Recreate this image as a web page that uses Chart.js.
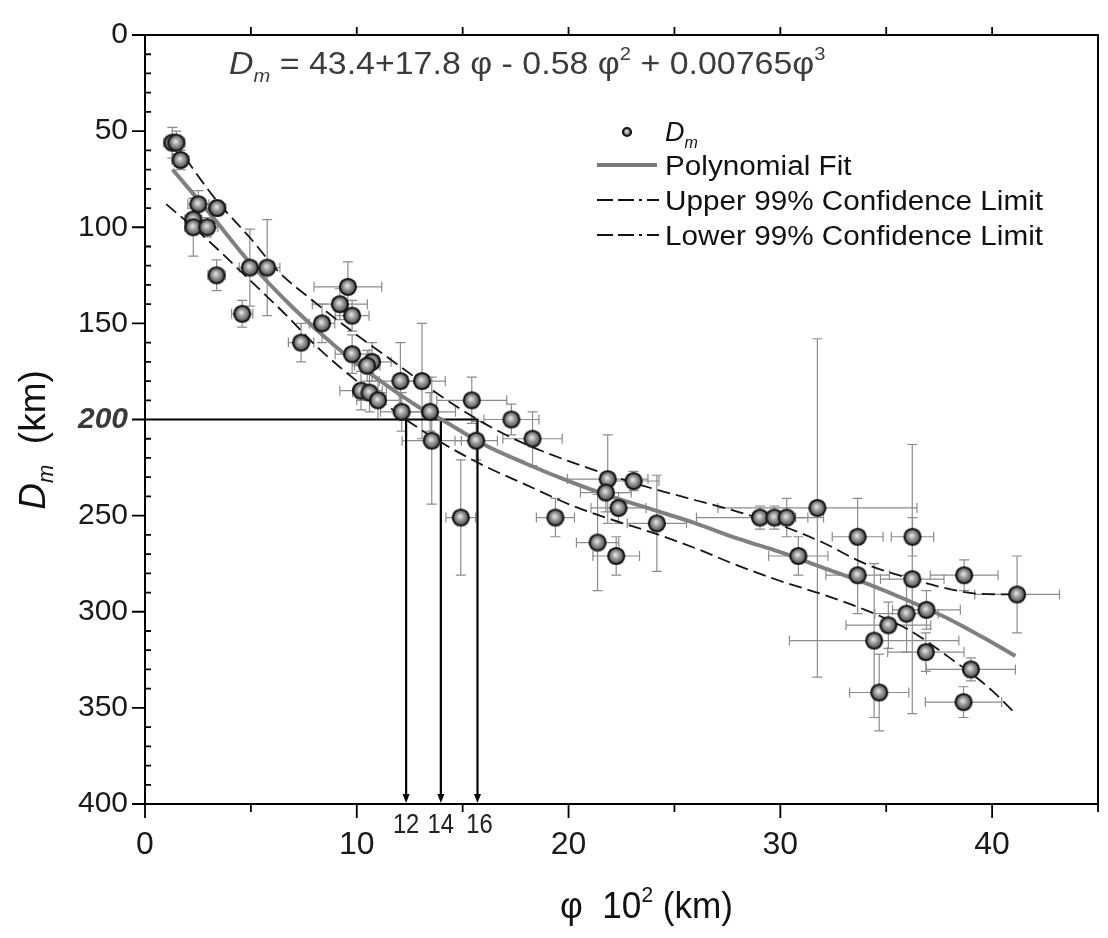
<!DOCTYPE html>
<html>
<head>
<meta charset="utf-8">
<script src="https://cdn.jsdelivr.net/npm/chart.js@4.4.1/dist/chart.umd.min.js"></script>
<style>
  html, body { margin: 0; padding: 0; background: #fff; }
  #wrap { width: 1108px; height: 938px; }
</style>
</head>
<body>
<div id="wrap"><canvas id="chart" width="1108" height="938"></canvas></div>
<script>
// Measured points (phi x 10^2 km, Dm km) with their error bars
const phi = [1.29, 1.48, 1.68, 2.52, 3.41, 2.28, 2.28, 2.94, 3.38, 4.95, 5.77, 4.59, 7.37, 8.36, 9.2, 9.58, 9.78, 9.78, 10.72, 10.49,
  10.2, 10.6, 11.0, 12.06, 13.08, 12.12, 13.46, 13.54, 15.43, 15.64, 17.3, 18.3, 14.91, 19.38, 21.85, 21.76, 23.07, 22.36, 24.17, 21.37,
  22.25, 29.04, 29.72, 30.3, 31.75, 30.85, 33.65, 36.24, 33.65, 36.23, 38.68, 41.18, 35.96, 36.9, 35.1, 34.43, 36.87, 39.0, 34.67, 38.65];
const dm = [56, 56, 65, 88, 90, 96, 100, 100, 125, 121, 121, 145, 160, 150, 140, 131, 146, 166, 170, 172,
  185, 186, 190, 180, 180, 196, 196, 211, 190, 211, 200, 210, 251, 251, 231, 238, 232, 246, 254, 264,
  271, 251, 251, 251, 246, 271, 261, 261, 281, 283, 281, 291, 301, 299, 307, 315, 321, 330, 342, 347];
const phiErr = [0.4, 0.4, 0.4, 0.5, 0.4, 0.4, 0.4, 0.5, 0.4, 0.5, 0.6, 0.5, 0.6, 0.6, 1.3, 1.6, 0.8, 0.8, 0.9, 0.6,
  1.0, 0.8, 1.0, 1.0, 1.1, 1.0, 1.2, 1.4, 1.65, 1.0, 1.3, 1.4, 0.7, 0.9, 1.9, 1.2, 1.2, 1.3, 1.4, 1.0,
  1.1, 3.0, 1.0, 1.0, 4.7, 1.4, 1.2, 1.0, 1.5, 1.5, 1.6, 2.0, 1.5, 1.6, 2.0, 4.0, 1.8, 2.1, 1.4, 1.8];
const dmErr = [8, 6, 5, 7, 4, 6, 15, 5, 8, 20, 25, 7, 10, 10, 8, 13, 8, 10, 10, 8,
  10, 10, 10, 20, 30, 10, 10, 33, 12, 10, 8, 14, 30, 10, 23, 10, 5, 8, 25, 25,
  10, 6, 6, 10, 88, 10, 20, 10, 20, 70, 8, 20, 20, 10, 12, 40, 10, 6, 20, 8];

// Fitted curve and 99% confidence limits
const fitPhi = [1.3, 3, 5, 7, 9, 11, 13, 14, 16, 18, 20, 22, 24, 26, 28, 30, 32, 34, 36, 38, 40, 41.1];
const fitDm = [70, 92, 119, 142, 162, 179, 194, 200, 213, 223, 232, 240, 247, 254, 262, 269, 277, 285, 294, 304, 316, 323];
const upperPhi = [1.9, 3.3, 5, 6.3, 7.9, 10, 12, 14, 15.7, 17.6, 20.6, 24, 26, 28, 30, 32, 34, 36.2, 37.9, 39.3, 41.1];
const upperDm = [64, 85, 106, 123, 138, 156, 172, 188, 200, 211, 224, 236, 242, 248, 255, 264, 275, 283, 288, 290.6, 291];
const lowerPhi = [1.0, 2.7, 5, 6.6, 8.2, 10, 12.33, 14, 16, 18, 20, 22, 24, 26, 28, 30, 32, 34, 36, 37, 38, 39, 40, 41.1];
const lowerDm = [88, 104, 128, 145, 163, 180, 200, 212, 224, 234, 244, 252, 259, 267, 276, 284, 291, 299, 309, 316, 324, 332, 341, 353];

// Where the curves cut Dm = 200 km
const markDm = 200;
const markPhi = [12.33, 13.97, 15.7];
const markLabels = ["12", "14", "16"];

const xTicks = [0, 10, 20, 30, 40];
const yTicks = [0, 50, 100, 150, 200, 250, 300, 350, 400];

const FONT = "'Liberation Sans', Arial, sans-serif";

// shaded ball marker
function makeBall(r) {
  const s = Math.ceil(r * 2 + 2);
  const c = document.createElement("canvas");
  c.width = s; c.height = s;
  const g = c.getContext("2d");
  const m = s / 2;
  const grad = g.createRadialGradient(m - r * 0.1, m - r * 0.15, r * 0.05, m, m, r);
  grad.addColorStop(0, "#e6e6e6");
  grad.addColorStop(0.4, "#9a9a9a");
  grad.addColorStop(1, "#3c3c3c");
  g.fillStyle = grad;
  g.beginPath();
  g.arc(m, m, r - 1, 0, Math.PI * 2);
  g.fill();
  g.lineWidth = 2.2;
  g.strokeStyle = "#161616";
  g.stroke();
  return c;
}
const ball = makeBall(9);
const smallBall = makeBall(5);

// draw a run of text pieces (italic, sub/superscript)
function richText(ctx, parts, x, y, align, sx) {
  sx = sx || 1;
  let w = 0;
  parts.forEach(p => {
    ctx.font = (p.italic ? "italic " : "") + (p.bold ? "bold " : "") + p.size + "px " + FONT;
    p.w = ctx.measureText(p.t).width;
    w += p.w;
  });
  let cx = align === "center" ? x - w * sx / 2 : x;
  ctx.save();
  ctx.translate(cx, y);
  ctx.scale(sx, 1);
  let px = 0;
  parts.forEach(p => {
    ctx.font = (p.italic ? "italic " : "") + (p.bold ? "bold " : "") + p.size + "px " + FONT;
    ctx.fillText(p.t, px, p.dy || 0);
    px += p.w;
  });
  ctx.restore();
}

const extras = {
  id: "extras",
  beforeDatasetsDraw(chart) {
    const { ctx, scales: { x, y } } = chart;
    ctx.save();
    // error bars
    ctx.strokeStyle = "#8c8c8c";
    ctx.lineWidth = 1.2;
    const cap = 5;
    for (let i = 0; i < phi.length; i++) {
      const px = x.getPixelForValue(phi[i]);
      const py = y.getPixelForValue(dm[i]);
      const x1 = x.getPixelForValue(phi[i] - phiErr[i]);
      const x2 = x.getPixelForValue(phi[i] + phiErr[i]);
      const y1 = y.getPixelForValue(dm[i] - dmErr[i]);
      const y2 = y.getPixelForValue(dm[i] + dmErr[i]);
      ctx.beginPath();
      ctx.moveTo(x1, py); ctx.lineTo(x2, py);
      ctx.moveTo(x1, py - cap); ctx.lineTo(x1, py + cap);
      ctx.moveTo(x2, py - cap); ctx.lineTo(x2, py + cap);
      ctx.moveTo(px, y1); ctx.lineTo(px, y2);
      ctx.moveTo(px - cap, y1); ctx.lineTo(px + cap, y1);
      ctx.moveTo(px - cap, y2); ctx.lineTo(px + cap, y2);
      ctx.stroke();
    }
    // 200 km line and arrows down to the axis
    ctx.strokeStyle = "#000";
    ctx.fillStyle = "#000";
    ctx.lineWidth = 2.2;
    const yh = y.getPixelForValue(markDm);
    const yb = y.getPixelForValue(400);
    ctx.beginPath();
    ctx.moveTo(x.getPixelForValue(0), yh);
    ctx.lineTo(x.getPixelForValue(markPhi[markPhi.length - 1]) + 1, yh);
    ctx.stroke();
    markPhi.forEach(v => {
      const px = x.getPixelForValue(v);
      ctx.beginPath();
      ctx.moveTo(px, yh);
      ctx.lineTo(px, yb - 8);
      ctx.stroke();
      ctx.beginPath();
      ctx.moveTo(px - 3.5, yb - 10);
      ctx.lineTo(px + 3.5, yb - 10);
      ctx.lineTo(px, yb - 1);
      ctx.closePath();
      ctx.fill();
    });
    ctx.restore();
  },
  afterDraw(chart) {
    const { ctx, chartArea: a, scales: { x, y } } = chart;
    ctx.save();
    ctx.strokeStyle = "#000";
    ctx.lineWidth = 2;
    ctx.strokeRect(a.left, a.top, a.right - a.left, a.bottom - a.top);
    ctx.lineWidth = 1.8;
    ctx.beginPath();
    // left axis: major ticks outward, minor inward
    for (let v = 0; v <= 400; v += 10) {
      const py = y.getPixelForValue(v);
      if (v % 50 === 0) { ctx.moveTo(a.left - 13, py); ctx.lineTo(a.left, py); }
      else { ctx.moveTo(a.left, py); ctx.lineTo(a.left + 6, py); }
    }
    // bottom axis
    for (let v = 0; v <= 45; v += 5) {
      const px = x.getPixelForValue(v);
      ctx.moveTo(px, a.bottom);
      ctx.lineTo(px, a.bottom + (v % 10 === 0 ? 14 : 8));
    }
    // top axis
    for (let v = 5; v < 45; v += 5) {
      const px = x.getPixelForValue(v);
      ctx.moveTo(px, a.top);
      ctx.lineTo(px, a.top - 8);
    }
    ctx.stroke();

    // small labels under the arrows
    ctx.fillStyle = "#222";
    ctx.textBaseline = "alphabetic";
    ctx.textAlign = "left";
    markPhi.forEach((v, i) => {
      const px = x.getPixelForValue(v) + (i === 2 ? 2 : 0);
      richText(ctx, [{ t: markLabels[i], size: 28 }], px, a.bottom + 29, "center", 0.85);
    });

    // axis titles
    ctx.fillStyle = "#111";
    richText(ctx, [{ t: "\u03C6", size: 37 }, { t: "  10", size: 37 }, { t: "2", size: 22, dy: -16 },
      { t: " (km)", size: 37 }], (a.left + a.right) / 2 + 25, 918, "center", 0.95);
    ctx.save();
    ctx.translate(45, 440);
    ctx.rotate(-Math.PI / 2);
    richText(ctx, [{ t: "D", size: 37, italic: true }, { t: "m", size: 22, italic: true, dy: 8 },
      { t: "  (km)", size: 37 }], 0, 0, "center", 1);
    ctx.restore();

    // equation
    ctx.fillStyle = "#3c3c3c";
    richText(ctx, [
      { t: "D", size: 32, italic: true }, { t: "m", size: 19, italic: true, dy: 8 },
      { t: " = 43.4+17.8 ", size: 32 }, { t: "\u03C6", size: 32 }, { t: " - 0.58 ", size: 32 },
      { t: "\u03C6", size: 32 }, { t: "2", size: 19, dy: -14 }, { t: " + 0.00765", size: 32 },
      { t: "\u03C6", size: 32 }, { t: "3", size: 19, dy: -14 }
    ], 229, 74, "left", 1.06);

    // legend
    ctx.fillStyle = "#111";
    const lx = 597, tx = 665;
    const rows = [132, 165, 200, 235];
    ctx.drawImage(smallBall, 627 - smallBall.width / 2, rows[0] - smallBall.height / 2);
    richText(ctx, [{ t: "D", size: 27, italic: true }, { t: "m", size: 16, italic: true, dy: 7 }], tx, rows[0] + 9, "left", 1);
    ctx.strokeStyle = "#7a7a7a";
    ctx.lineWidth = 4;
    ctx.beginPath(); ctx.moveTo(lx, rows[1]); ctx.lineTo(lx + 60, rows[1]); ctx.stroke();
    ctx.strokeStyle = "#111";
    ctx.lineWidth = 2;
    ctx.setLineDash([16, 5, 16, 5, 3, 5]);
    [rows[2], rows[3]].forEach(r => {
      ctx.beginPath(); ctx.moveTo(lx, r); ctx.lineTo(lx + 62, r); ctx.stroke();
    });
    ctx.setLineDash([]);
    richText(ctx, [{ t: "Polynomial Fit", size: 27 }], tx, rows[1] + 10, "left", 1.1);
    richText(ctx, [{ t: "Upper 99% Confidence Limit", size: 27 }], tx, rows[2] + 10, "left", 1.1);
    richText(ctx, [{ t: "Lower 99% Confidence Limit", size: 27 }], tx, rows[3] + 10, "left", 1.1);
    ctx.restore();
  }
};

new Chart(document.getElementById("chart"), {
  type: "scatter",
  plugins: [extras],
  data: {
    datasets: [
      {
        label: "Polynomial Fit",
        data: fitPhi.map((v, i) => ({ x: v, y: fitDm[i] })),
        showLine: true,
        borderColor: "#808080",
        borderWidth: 4,
        pointRadius: 0,
        cubicInterpolationMode: "monotone",
        order: 3
      },
      {
        label: "Upper 99% Confidence Limit",
        data: upperPhi.map((v, i) => ({ x: v, y: upperDm[i] })),
        showLine: true,
        borderColor: "#151515",
        borderWidth: 1.8,
        borderDash: [13, 6],
        pointRadius: 0,
        cubicInterpolationMode: "monotone",
        order: 2
      },
      {
        label: "Lower 99% Confidence Limit",
        data: lowerPhi.map((v, i) => ({ x: v, y: lowerDm[i] })),
        showLine: true,
        borderColor: "#151515",
        borderWidth: 1.8,
        borderDash: [13, 6],
        pointRadius: 0,
        cubicInterpolationMode: "monotone",
        order: 2
      },
      {
        label: "Dm",
        data: phi.map((v, i) => ({ x: v, y: dm[i] })),
        pointStyle: ball,
        pointRadius: 9,
        order: 1
      }
    ]
  },
  options: {
    responsive: false,
    devicePixelRatio: 1,
    animation: false,
    layout: { autoPadding: false, padding: { top: 25, right: 10, left: 0, bottom: 0 } },
    plugins: { legend: { display: false }, tooltip: { enabled: false } },
    scales: {
      x: {
        type: "linear",
        min: 0,
        max: 45,
        afterBuildTicks: s => { s.ticks = xTicks.map(v => ({ value: v })); },
        afterFit: s => { s.height = 134; },
        grid: { display: false, drawTicks: false },
        border: { display: false },
        ticks: { padding: 22, color: "#1a1a1a", font: { size: 32, family: FONT } }
      },
      y: {
        type: "linear",
        reverse: true,
        min: 0,
        max: 400,
        afterBuildTicks: s => { s.ticks = yTicks.map(v => ({ value: v })); },
        afterFit: s => { s.width = 145; },
        grid: { display: false, drawTicks: false },
        border: { display: false },
        ticks: {
          padding: 17,
          color: ctx => ctx.tick && ctx.tick.value === 200 ? "#3a3a3a" : "#1a1a1a",
          font: ctx => ctx.tick && ctx.tick.value === 200
            ? { size: 30, family: FONT, style: "italic", weight: "bold" }
            : { size: 30, family: FONT }
        }
      }
    }
  }
});
</script>
</body>
</html>
